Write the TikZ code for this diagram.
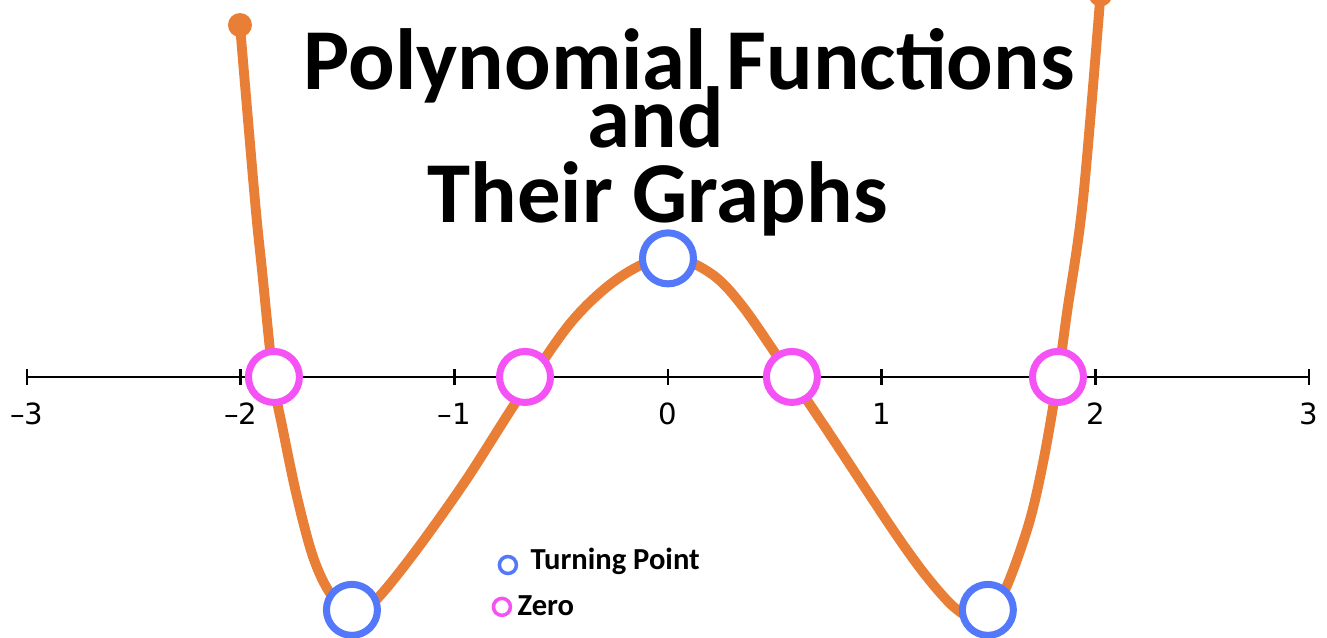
\documentclass[tikz,border=0pt]{standalone}
\usepackage{fontspec}
\setmainfont{Carlito}
\newfontfamily\tickfont{DejaVu Sans}
\definecolor{curveorange}{RGB}{233,127,55}
\definecolor{turnblue}{RGB}{84,120,250}
\definecolor{zeromag}{RGB}{245,82,245}
\begin{document}
\begin{tikzpicture}[x=2.137cm, y=2.137cm,
  zeropt/.style={circle, draw=zeromag, fill=white, line width=2pt, minimum size=0.51cm, inner sep=0pt},
  turnpt/.style={zeropt, draw=turnblue},
  keyzero/.style={circle, draw=zeromag, line width=1pt, minimum size=0.17cm, inner sep=0pt},
  keyturn/.style={keyzero, draw=turnblue},
  titletext/.style={font=\fontsize{24.7}{26}\selectfont\bfseries, anchor=base west, inner sep=0pt},
  keytext/.style={font=\fontsize{8.7}{10}\selectfont\bfseries, anchor=base west, inner sep=0pt},
  ticklabel/.style={font=\tickfont\fontsize{8.3}{10}\selectfont, anchor=north, inner sep=0pt}]

  \useasboundingbox (-3.126,-1.217) rectangle (3.084,1.764);

  % --- Eje x ---
  \draw[line width=0.7pt] (-2.995,0) -- (3.004,0);
  \foreach \x/\lab [count=\i] in {-3/–3,-2/–2,-1/–1,0/0,1/1,2/2,3/3}
    \draw[line width=0.7pt] (\x,0.037) -- (\x,-0.037)
          node[ticklabel] (lab\i) at (\x,-0.117) {\lab};

  % --- Curva ---
  \draw[curveorange, line width=2.8pt, line join=round]
    plot[smooth, tension=0.55] coordinates {
      (-2.003,1.647) (-1.933,0.828) (-1.900,0.501) (-1.848,0)
      (-1.802,-0.248) (-1.736,-0.562) (-1.661,-0.842) (-1.582,-1.011)
      (-1.488,-1.100) (-1.385,-1.062) (-1.200,-0.840) (-0.950,-0.490)
      (-0.700,-0.100) (-0.450,0.260) (-0.220,0.470)
      (0,0.562) (0.197,0.487) (0.351,0.328) (0.576,0)
      (0.744,-0.248) (1.053,-0.716) (1.212,-0.936) (1.343,-1.081)
      (1.437,-1.123) (1.554,-1.044) (1.680,-0.716) (1.755,-0.402)
      (1.825,0) (1.867,0.299) (1.942,0.828) (2.024,1.790)};
  \fill[curveorange] (-2.003,1.647) circle[radius=0.12cm];
  \fill[curveorange] (2.024,1.790) circle[radius=0.12cm];

  % --- Ceros ---
  \node[zeropt] (z1) at (-1.844,0) {};
  \node[zeropt] (z2) at (-0.669,0) {};
  \node[zeropt] (z3) at (0.580,0) {};
  \node[zeropt] (z4) at (1.825,0) {};

  % --- Puntos de giro ---
  \node[turnpt] (tp1) at (-1.479,-1.090) {};
  \node[turnpt] (tp2) at (0,0.555) {};
  \node[turnpt] (tp3) at (1.497,-1.090) {};

  % --- Leyenda ---
  \node[keyturn] (kturn) at (-0.749,-0.880) {};
  \node[keytext] (kturnlab) at (-0.646,-0.903) {Turning Point};
  \node[keyzero] (kzero) at (-0.777,-1.076) {};
  \node[keytext] (kzerolab) at (-0.707,-1.114) {Zero};

  % --- Titulo ---
  \node[titletext] (title1) at (-1.708,1.343) {Polynomial Functions};
  \node[titletext] (title2) at (-0.379,1.072) {and};
  \node[titletext] (title3) at (-1.128,0.721) {Their Graphs};

\end{tikzpicture}
\end{document}
